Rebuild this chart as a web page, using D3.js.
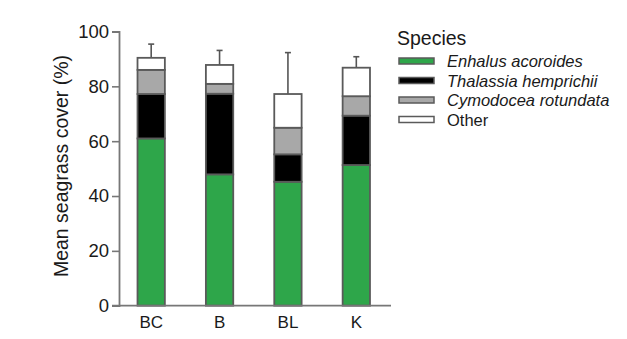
<!DOCTYPE html>
<html><head><meta charset="utf-8">
<script src="https://cdn.jsdelivr.net/npm/d3@7"></script>
<style>body{margin:0;background:#fff}svg{display:block}text{font-family:"Liberation Sans",Arial,sans-serif;fill:#1a1a1a}</style>
</head><body><svg id="c" width="627" height="339"></svg>
<script>
const sites = ["BC", "B", "BL", "K"];
const species = ["Enhalus acoroides", "Thalassia hemprichii", "Cymodocea rotundata", "Other"];
const enhalus = [61.0, 47.9, 45.2, 51.3];
const thalassia = [16.2, 29.4, 10.0, 18.0];
const cymodocea = [8.8, 3.6, 9.7, 7.1];
const other = [4.4, 6.9, 12.3, 10.4];
const errorSE = [5.0, 5.3, 15.1, 4.0];
const yTicks = [0, 20, 40, 60, 80, 100];
const colors = ["#2ea64a", "#000000", "#a8a8a8", "#ffffff"];

const svg = d3.select("#c");
const x = d3.scaleBand().domain(sites).range([117, 390.5]).paddingInner(0.6).paddingOuter(0.3);
const y = d3.scaleLinear().domain([0, 100]).range([305.7, 31.5]);

const rows = sites.map((s, i) => ({site: s, "Enhalus acoroides": enhalus[i], "Thalassia hemprichii": thalassia[i], "Cymodocea rotundata": cymodocea[i], "Other": other[i], err: errorSE[i]}));
const stack = d3.stack().keys(species)(rows);

// error bars
const tot = rows.map(r => species.reduce((a, k) => a + r[k], 0));
const eg = svg.append("g").attr("stroke", "#555").attr("stroke-width", 1.6);
rows.forEach((r, i) => {
  const cx = x(r.site) + x.bandwidth() / 2;
  eg.append("line").attr("x1", cx).attr("x2", cx).attr("y1", y(tot[i])).attr("y2", y(tot[i] + r.err));
  eg.append("line").attr("x1", cx - 3).attr("x2", cx + 3).attr("y1", y(tot[i] + r.err)).attr("y2", y(tot[i] + r.err));
});

svg.append("g").selectAll("g").data(stack).join("g")
  .attr("fill", (d, i) => colors[i])
  .selectAll("rect").data(d => d).join("rect")
  .attr("x", d => x(d.data.site))
  .attr("width", x.bandwidth())
  .attr("y", d => y(d[1]))
  .attr("height", d => y(d[0]) - y(d[1]))
  .attr("stroke", "#5a5a5a").attr("stroke-width", 1.8);

// y axis
const yAxis = svg.append("g").attr("transform", "translate(119,0)")
  .call(d3.axisLeft(y).tickValues(yTicks).tickSize(7).tickPadding(3));
yAxis.select(".domain").attr("stroke", "#777").attr("stroke-width", 1.8);
yAxis.selectAll(".tick line").attr("stroke", "#777").attr("stroke-width", 1.6);
yAxis.selectAll("text").style("font-size", "18.5px").attr("fill", "#1a1a1a").style("font-family", "Liberation Sans, Arial, sans-serif");

// x axis
const xAxis = svg.append("g").attr("transform", "translate(0,305.7)")
  .call(d3.axisBottom(x).tickSize(0).tickPadding(10));
xAxis.select(".domain").remove();
xAxis.append("line").attr("x1", 112).attr("x2", 391).attr("stroke", "#777").attr("stroke-width", 1.8);
xAxis.selectAll("text").style("font-size", "17px").attr("fill", "#1a1a1a").style("font-family", "Liberation Sans, Arial, sans-serif");

svg.append("text").attr("transform", "translate(68,166) rotate(-90)")
  .attr("text-anchor", "middle").style("font-size", "19.5px").text("Mean seagrass cover (%)");

// legend
const lg = svg.append("g");
lg.append("text").attr("x", 397).attr("y", 45).style("font-size", "19.5px").text("Species");
species.forEach((s, i) => {
  const cy = 61 + i * 19.5;
  lg.append("rect").attr("x", 399).attr("y", cy - 3).attr("width", 35).attr("height", 6)
    .attr("fill", colors[i]).attr("stroke", "#5a5a5a").attr("stroke-width", 1.5);
  lg.append("text").attr("x", 447).attr("y", cy + 6).style("font-size", "16.5px")
    .style("font-style", i < 3 ? "italic" : "normal").text(s);
});
</script></body></html>
